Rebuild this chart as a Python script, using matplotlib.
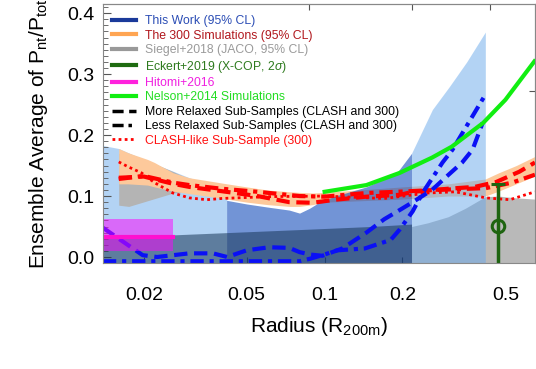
import matplotlib
matplotlib.use("Agg")
import matplotlib.pyplot as plt
from matplotlib.lines import Line2D
from matplotlib.ticker import MultipleLocator, NullLocator, FixedLocator, NullFormatter

plt.rcParams['font.family'] = ['Liberation Sans', 'DejaVu Sans']
plt.rcParams['mathtext.fontset'] = 'custom'
plt.rcParams['mathtext.rm'] = 'Liberation Sans'
plt.rcParams['mathtext.it'] = 'Liberation Sans:italic'

# --- This Work, 95% CL regions
lb1_r = [0.0139, 0.016, 0.02, 0.03, 0.0418]
lb1_top = [0.183, 0.178, 0.16, 0.13, 0.11]
mb_r = [0.0418, 0.05, 0.06, 0.073, 0.08, 0.0875, 0.0956, 0.11, 0.145, 0.19, 0.2167]
mb_top = [0.093, 0.087, 0.082, 0.077, 0.072, 0.08, 0.09, 0.1, 0.115, 0.138, 0.17]
lb2_r = [0.2167, 0.261, 0.304, 0.354, 0.418]
lb2_top = [0.17, 0.242, 0.28, 0.32, 0.369]
band_r = [0.0139, 0.025, 0.0418, 0.08, 0.15, 0.2167]
band_top = [0.034, 0.036, 0.04, 0.045, 0.05, 0.054]

# This Work sub-samples
tw_relax_r = [0.0139, 0.0198, 0.0225, 0.030, 0.037, 0.042, 0.050, 0.061, 0.073, 0.080,
              0.088, 0.098, 0.117, 0.145, 0.17, 0.195, 0.219, 0.26, 0.296, 0.34, 0.373, 0.408]
tw_relax = [0.048, 0.003, 0.0, 0.006, 0.006, 0.0, 0.011, 0.016, 0.015, 0.008,
            0.004, 0.002, 0.014, 0.040, 0.062, 0.077, 0.09, 0.11, 0.132, 0.155, 0.176, 0.22]
tw_less_r = [0.0139, 0.08, 0.0875, 0.098, 0.112, 0.143, 0.18, 0.195, 0.219, 0.239, 0.2855, 0.312, 0.415]
tw_less = [-0.007, -0.007, -0.003, 0.003, 0.011, 0.014, 0.028, 0.045, 0.075, 0.105, 0.155, 0.176, 0.264]

# The 300 simulations
t300_r = [0.016, 0.0174, 0.0207, 0.022, 0.026, 0.03, 0.042, 0.05, 0.06, 0.073, 0.08, 0.09,
          0.1, 0.2, 0.3, 0.418, 0.47, 0.55, 0.65]
t300_lo = [0.12, 0.12, 0.118, 0.115, 0.108, 0.104, 0.095, 0.09, 0.086, 0.083, 0.083, 0.086,
           0.09, 0.095, 0.1, 0.1, 0.108, 0.12, 0.133]
t300_hi = [0.178, 0.171, 0.16, 0.155, 0.138, 0.13, 0.12, 0.115, 0.11, 0.107, 0.106, 0.105,
           0.106, 0.115, 0.12, 0.128, 0.138, 0.15, 0.165]
t300_relax_r = [0.016, 0.02, 0.026, 0.03, 0.04, 0.055, 0.073, 0.09, 0.11, 0.145, 0.195,
                0.22, 0.3, 0.38, 0.46, 0.566, 0.65]
t300_relax = [0.13, 0.132, 0.12, 0.115, 0.108, 0.1, 0.09, 0.089, 0.094, 0.099, 0.102,
              0.107, 0.112, 0.115, 0.123, 0.14, 0.155]
t300_less_r = [0.016, 0.02, 0.026, 0.03, 0.04, 0.055, 0.08, 0.1, 0.145, 0.19, 0.27, 0.42, 0.53, 0.65]
t300_less = [0.128, 0.133, 0.122, 0.118, 0.112, 0.107, 0.1, 0.099, 0.105, 0.107, 0.11, 0.113, 0.122, 0.135]
clash_r = [0.016, 0.0174, 0.0196, 0.022, 0.0259, 0.03, 0.035, 0.04, 0.06, 0.1, 0.17,
           0.25, 0.32, 0.42, 0.52, 0.65]
clash = [0.156, 0.148, 0.138, 0.122, 0.105, 0.097, 0.094, 0.096, 0.099, 0.1, 0.096,
         0.105, 0.107, 0.097, 0.094, 0.107]

# Siegel+2018
sie1_r = [0.016, 0.0175, 0.026, 0.035]
sie1_lo = [0.085, 0.083, 0.105, 0.112]
sie1_hi = [0.17, 0.17, 0.14, 0.115]
sie2_r = [0.2167, 0.25, 0.3, 0.35, 0.418, 0.47, 0.55, 0.65]
sie2_hi = [0.05, 0.056, 0.066, 0.08, 0.099, 0.1, 0.097, 0.095]

# Eckert+2019
eck_r = [0.467]
eck_val = [0.0515]
eck_lo = [0.08]
eck_hi = [0.0685]

# Hitomi+2016
hit_r = [0.012, 0.0259]
hit_val = 0.032
hit_lo = 0.0105
hit_hi = 0.063

# Nelson+2014
nel_r = [0.1, 0.145, 0.195, 0.26, 0.31, 0.41, 0.5, 0.647]
nel = [0.107, 0.118, 0.138, 0.163, 0.181, 0.22, 0.258, 0.321]

xticks = [0.02, 0.05, 0.1, 0.2, 0.5]
xticklabels = ['0.02', '0.05', '0.1', '0.2', '0.5']

fig = plt.figure(figsize=(5.36, 3.69), dpi=100)
ax = fig.add_axes([0.192, 0.287, 0.806, 0.702])

ybot = -0.01
ax.fill_between(lb1_r, ybot, lb1_top, color='#69a9eb', alpha=0.5, lw=0, zorder=1)
ax.fill_between(sie1_r, sie1_lo, sie1_hi, color='#b4b4b4', lw=0, zorder=1.5)
ax.fill_between(t300_r, t300_lo, t300_hi, color='#fdc99b', lw=0, zorder=2)
ax.fill_between(sie2_r, ybot, sie2_hi, color='#b9b9b9', lw=0, zorder=2)
ax.fill_between(mb_r, ybot, mb_top, color='#144dbb', alpha=0.6, lw=0, zorder=3)
ax.fill_between(lb2_r, ybot, lb2_top, color='#69a9eb', alpha=0.5, lw=0, zorder=3)
ax.fill_between(band_r, ybot, band_top, color='#143253', alpha=0.53, lw=0, zorder=3.5)

ax.plot(t300_relax_r, t300_relax, color='#ff0000', lw=3, dashes=(3.2, 1.6), zorder=5)
ax.plot(t300_less_r, t300_less, color='#ff0000', lw=3, dashes=(3.2, 1.4, 1, 1.4), zorder=5)
ax.plot(clash_r, clash, color='#ff0000', lw=2, dashes=(1, 1.2), zorder=5)
ax.plot(tw_relax_r, tw_relax, color='#0a10f5', lw=3, dashes=(3.2, 1.6), zorder=5)
ax.plot(tw_less_r, tw_less, color='#0a10f5', lw=3, dashes=(3.2, 1.4, 1, 1.4), zorder=5)
ax.plot(nel_r, nel, color='#11ee11', lw=3, zorder=5)

ax.fill_between(hit_r, hit_lo, hit_hi, color='#ff00ff', alpha=0.5, lw=0, zorder=6)
ax.plot(hit_r, [hit_val, hit_val], color='#ff10d0', lw=3, zorder=6)

ax.errorbar(eck_r, eck_val, yerr=[eck_lo, eck_hi], fmt='o', mfc='none', mec='#1e6410',
            ms=9, mew=2.2, ecolor='#1e6410', elinewidth=2.5, capsize=5, capthick=2.5, zorder=7)

ax.set_xscale('log')
ax.set_xlim(0.0139, 0.65)
ax.set_ylim(ybot, 0.415)
ax.xaxis.set_major_locator(FixedLocator(xticks))
ax.set_xticklabels(xticklabels)
ax.xaxis.set_minor_locator(NullLocator())
ax.yaxis.set_major_locator(MultipleLocator(0.1))
ax.yaxis.set_minor_locator(MultipleLocator(0.01))
ax.set_yticks([0.0, 0.1, 0.2, 0.3, 0.4])
ax.set_yticklabels(['0.0', '0.1', '0.2', '0.3', '0.4'])

ax.tick_params(axis='x', which='major', direction='in', length=4, labelsize=14, pad=17,
               color='#555555')
ax.tick_params(axis='y', which='major', direction='in', length=6, labelsize=14, pad=6,
               color='#555555')
ax.tick_params(axis='y', which='minor', direction='in', length=3.5, color='#555555')
for s in ax.spines.values():
    s.set_color('#888888')
    s.set_zorder(10)

sec = ax.secondary_xaxis('top', functions=(lambda r: r / 0.437, lambda r: r * 0.437))
sec.xaxis.set_major_locator(FixedLocator([0.2, 0.5, 1.0]))
sec.xaxis.set_minor_locator(NullLocator())
sec.xaxis.set_major_formatter(NullFormatter())
sec.tick_params(direction='in', length=4, color='#555555')
sec.spines['top'].set_color('#888888')

secy = ax.secondary_yaxis('right')
secy.yaxis.set_major_locator(FixedLocator([0.273]))
secy.yaxis.set_minor_locator(NullLocator())
secy.yaxis.set_major_formatter(NullFormatter())
secy.tick_params(direction='in', length=4, color='#555555')
secy.spines['right'].set_color('#888888')

ax.set_xlabel(r'Radius (R$_{\rm 200m}$)', fontsize=15)
ax.xaxis.set_label_coords(0.5, -0.2)
ax.set_ylabel(r'Ensemble Average of P$_{\rm nt}$/P$_{\rm tot}$', fontsize=15)
ax.yaxis.set_label_coords(-0.122, 0.5)

handles = [
    Line2D([], [], color='#1a3a9a', lw=3),
    Line2D([], [], color='#ffa552', lw=3),
    Line2D([], [], color='#999999', lw=3),
    Line2D([], [], color='#1e6b10', lw=3),
    Line2D([], [], color='#ff22dd', lw=3),
    Line2D([], [], color='#11ee11', lw=3),
    Line2D([], [], color='black', lw=2.5, dashes=(3.2, 1.6)),
    Line2D([], [], color='black', lw=2.5, dashes=(3.2, 1.4, 1, 1.4)),
    Line2D([], [], color='#ff0000', lw=2, dashes=(1, 1.2)),
]
labels = ['This Work (95% CL)', 'The 300 Simulations (95% CL)', 'Siegel+2018 (JACO, 95% CL)',
          r'Eckert+2019 (X-COP, 2$\sigma$)', 'Hitomi+2016', 'Nelson+2014 Simulations',
          'More Relaxed Sub-Samples (CLASH and 300)', 'Less Relaxed Sub-Samples (CLASH and 300)',
          'CLASH-like Sub-Sample (300)']
text_colors = ['#2b4db5', '#b0161c', '#9a9a9a', '#2e7a1e', '#f020e0', '#22dd22',
               'black', 'black', '#ff1010']
leg = ax.legend(handles, labels, loc='upper left', bbox_to_anchor=(0.022, 0.957),
                frameon=False, fontsize=8.8, handlelength=1.95, handletextpad=0.75,
                labelspacing=0.2, borderpad=0, borderaxespad=0)
for t, c in zip(leg.get_texts(), text_colors):
    t.set_color(c)
leg.set_zorder(20)

fig.savefig('out.png', dpi=100)
